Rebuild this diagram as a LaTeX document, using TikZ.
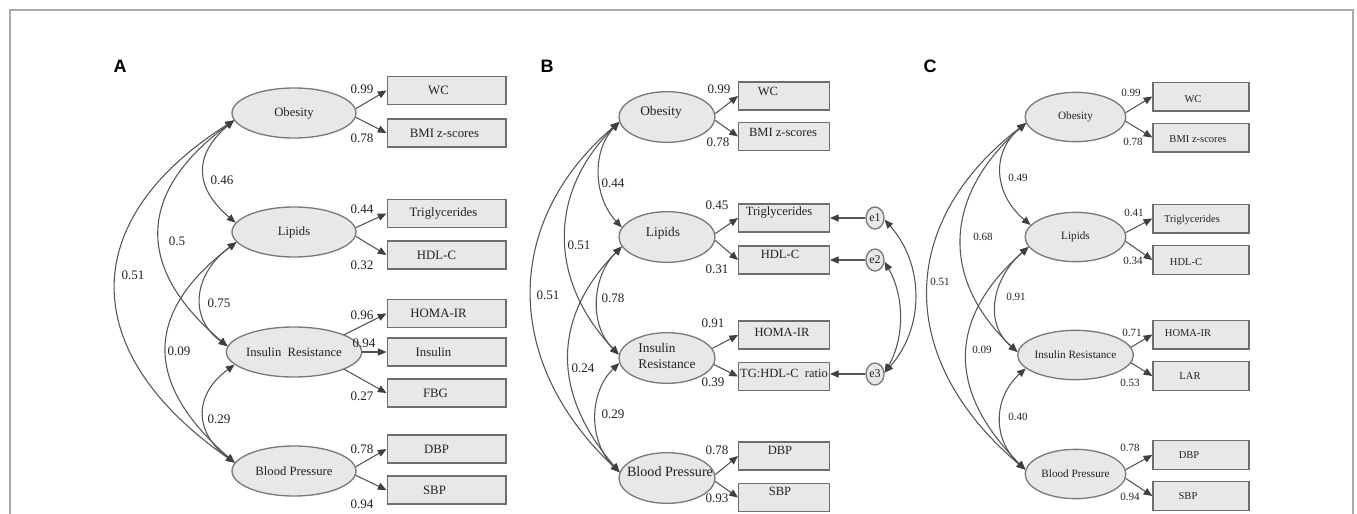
\documentclass[tikz,border=0pt]{standalone}
\usepackage{fontspec}
\setmainfont{Liberation Serif}
\newfontfamily\lettfont{Liberation Sans}
\usetikzlibrary{arrows.meta,shapes.geometric}
\definecolor{fillc}{HTML}{E8E8E8}
\definecolor{ellc}{HTML}{7A7A7A}
\definecolor{boxc}{HTML}{6E6E6E}
\definecolor{linec}{HTML}{555555}
\definecolor{tipc}{HTML}{404040}
\definecolor{framec}{HTML}{AAAAAA}
\definecolor{txtc}{HTML}{222222}
\begin{document}
\begin{tikzpicture}[x=0.75pt,y=-0.75pt,
  lat/.style={ellipse,draw=ellc,fill=fillc,line width=1pt,inner sep=0pt,text=txtc},
  latA/.style={lat,minimum width=93pt,minimum height=37.5pt,font=\fontsize{9.5}{11}\selectfont},
  latB/.style={lat,minimum width=72pt,minimum height=38pt,font=\fontsize{10}{11}\selectfont},
  latC/.style={lat,minimum width=75.5pt,minimum height=37pt,font=\fontsize{8.4}{10}\selectfont},
  obs/.style={rectangle,draw=boxc,fill=fillc,line width=1pt,inner sep=0pt},
  obsA/.style={obs,minimum width=89pt,minimum height=21pt},
  obsB/.style={obs,minimum width=68pt,minimum height=21pt},
  obsC/.style={obs,minimum width=72pt,minimum height=21.5pt},
  err/.style={ellipse,draw=ellc,fill=fillc,line width=1pt,inner sep=0pt,minimum width=13.5pt,minimum height=16.5pt,font=\fontsize{9}{10}\selectfont,text=txtc},
  txA/.style={inner sep=0pt,text=txtc,font=\fontsize{9.6}{11}\selectfont},
  txB/.style={inner sep=0pt,text=txtc,font=\fontsize{9.4}{11}\selectfont},
  txC/.style={inner sep=0pt,text=txtc,font=\fontsize{7.9}{9}\selectfont},
  numA/.style={inner sep=0pt,text=txtc,font=\fontsize{9.8}{11}\selectfont},
  numB/.style={inner sep=0pt,text=txtc,font=\fontsize{9.8}{11}\selectfont},
  numC/.style={inner sep=0pt,text=txtc,font=\fontsize{8.3}{10}\selectfont},
  tip/.tip={Triangle[length=6.5pt,width=5.4pt,color=tipc]},
  lk/.style={draw=linec,line width=0.8pt,-tip},
  cv/.style={draw=linec,line width=0.8pt,tip-tip},
  lett/.style={inner sep=0pt,font=\lettfont\bfseries\fontsize{13.5}{14}\selectfont}
]
\useasboundingbox (0,0) rectangle (1357,514);
\draw[framec,line width=0.8pt] (10,530) -- (10,10) -- (1353,10) -- (1353,530);

%================ Panel A ================
\node[lett] (lA) at (120,66) {A};
\node[latA] (aob)  at (294,113) {Obesity};
\node[latA] (alip) at (294,232) {Lipids};
\node[latA] (air)  at (294,352) {Insulin\ \ Resistance};
\node[latA] (abp)  at (294,471) {Blood Pressure};

\node[obsA] (awc)   at (446.5,90.5) {};
\node[obsA] (abmi)  at (446.5,133) {};
\node[obsA] (atg)   at (446.5,213.5) {};
\node[obsA] (ahdl)  at (446.5,255) {};
\node[obsA] (ahoma) at (446.5,313.5) {};
\node[obsA] (ains)  at (446.5,352) {};
\node[obsA] (afbg)  at (446.5,393) {};
\node[obsA] (adbp)  at (446.5,449) {};
\node[obsA] (asbp)  at (446.5,490) {};
\node[txA] at ([shift={(-8,0)}]awc.center) {WC};
\node[txA] at ([shift={(-2,0)}]abmi.center) {BMI z-scores};
\node[txA] at ([shift={(-3,0)}]atg.center) {Triglycerides};
\node[txA] at ([shift={(-10,0)}]ahdl.center) {HDL-C};
\node[txA] at ([shift={(-8,0)}]ahoma.center) {HOMA-IR};
\node[txA] at ([shift={(-13,0)}]ains.center) {Insulin};
\node[txA] at ([shift={(-11,0)}]afbg.center) {FBG};
\node[txA] at ([shift={(-10,0)}]adbp.center) {DBP};
\node[txA] at ([shift={(-12,0)}]asbp.center) {SBP};

\draw[lk] (aob.4) -- (awc.west);
\draw[lk] (aob.-4) -- (abmi.west);
\draw[lk] (alip.4) -- (atg.west);
\draw[lk] (alip.-4) -- (ahdl.west);
\draw[lk] (air.19) -- (ahoma.west);
\draw[lk] (air.east) -- (ains.west);
\draw[lk] (air.-19) -- (afbg.west);
\draw[lk] (abp.4) -- (adbp.west);
\draw[lk] (abp.-4) -- (asbp.west);

\node[numA] at (362,89) {0.99};
\node[numA] at (362,138) {0.78};
\node[numA] at (362,209) {0.44};
\node[numA] at (362,265) {0.32};
\node[numA] at (362,315) {0.96};
\node[numA] at (364,343) {0.94};
\node[numA] at (362,396) {0.27};
\node[numA] at (362,449) {0.78};
\node[numA] at (362,504) {0.94};

\draw[cv] (aob.187) .. controls +(-41,35) and +(-41,-35) .. (alip.171);
\draw[cv] (aob.187) .. controls +(-95,70) and +(-95,-80) .. (air.175);
\draw[cv] (aob.187) .. controls +(-158,100) and +(-158,-110) .. (abp.172);
\draw[cv] (alip.190) .. controls +(-41,30) and +(-41,-30) .. (air.175);
\draw[cv] (alip.190) .. controls +(-92,70) and +(-92,-80) .. (abp.172);
\draw[cv] (air.192) .. controls +(-41,30) and +(-41,-30) .. (abp.172);

\node[numA] at (222,180) {0.46};
\node[numA] at (177,241) {0.5};
\node[numA] at (133,275) {0.51};
\node[numA] at (219,303) {0.75};
\node[numA] at (179,351) {0.09};
\node[numA] at (219,419) {0.29};

%================ Panel B ================
\node[lett] (lB) at (547,66) {B};
\node[latB] (bob)  at (667,117) {};
\node[latB] (blip) at (667,237) {};
\node[latB] (bir)  at (667,358) {};
\node[latB] (bbp)  at (667,478) {};
\node[inner sep=0pt,text=txtc,font=\fontsize{10}{11}\selectfont] at ([shift={(-6,-5)}]bob.center) {Obesity};
\node[inner sep=0pt,text=txtc,font=\fontsize{10}{11}\selectfont] at ([shift={(-4,-4)}]blip.center) {Lipids};
\node[inner sep=0pt,text=txtc,font=\fontsize{10}{12.5}\selectfont,align=left] at ([shift={(0,-2)}]bir.center) {Insulin\\Resistance};
\node[inner sep=0pt,text=txtc,font=\fontsize{10.6}{11}\selectfont] at ([shift={(3,-6)}]bbp.center) {Blood Pressure};

\node[obsB] (bwc)    at (784,96) {};
\node[obsB] (bbmi)   at (784,136.5) {};
\node[obsB] (btg)    at (784,218) {};
\node[obsB] (bhdl)   at (784,260) {};
\node[obsB] (bhoma)  at (784,335) {};
\node[obsB] (bratio) at (784,376.5) {};
\node[obsB] (bdbp)   at (784,456) {};
\node[obsB] (bsbp)   at (784,497.5) {};
\node[txB] at ([shift={(-16,-5)}]bwc.center) {WC};
\node[txB] at ([shift={(-1,-4)}]bbmi.center) {BMI z-scores};
\node[txB] at ([shift={(-5,-5)}]btg.center) {Triglycerides};
\node[txB] at ([shift={(-4,-6)}]bhdl.center) {HDL-C};
\node[txB] at ([shift={(-2,-3)}]bhoma.center) {HOMA-IR};
\node[txB] at ([shift={(0,-3)}]bratio.center) {TG:HDL-C\ \ ratio};
\node[txB] at ([shift={(-4,-6)}]bdbp.center) {DBP};
\node[txB] at ([shift={(-4,-6)}]bsbp.center) {SBP};

\node[err] (be1) at (875,218) {e1};
\node[err] (be2) at (875,260) {e2};
\node[err] (be3) at (875,374) {e3};
\draw[lk] (be1.west) -- (be1.west -| btg.east);
\draw[lk] (be2.west) -- (be2.west -| bhdl.east);
\draw[lk] (be3.west) -- (be3.west -| bratio.east);
\draw[cv] (be1.-10) .. controls +(40,45) and +(40,-45) .. (be3.8);
\draw[cv] (be2.-10) .. controls +(20,35) and +(20,-35) .. (be3.8);

\draw[lk] (bob.4) -- (bwc.west);
\draw[lk] (bob.-4) -- (bbmi.west);
\draw[lk] (blip.4) -- (btg.west);
\draw[lk] (blip.-4) -- (bhdl.west);
\draw[lk] (bir.12) -- (bhoma.west);
\draw[lk] (bir.-8) -- (bratio.west);
\draw[lk] (bbp.4) -- (bdbp.west);
\draw[lk] (bbp.-4) -- (bsbp.west);

\node[numB] at (719,89) {0.99};
\node[numB] at (718,142) {0.78};
\node[numB] at (717,205) {0.45};
\node[numB] at (717,269) {0.31};
\node[numB] at (713,323) {0.91};
\node[numB] at (713,382) {0.39};
\node[numB] at (717,450) {0.78};
\node[numB] at (717,498) {0.93};

\draw[cv] (bob.186) .. controls +(-28,30) and +(-28,-30) .. (blip.168);
\draw[cv] (bob.186) .. controls +(-71,70) and +(-71,-75) .. (bir.176);
\draw[cv] (bob.186) .. controls +(-117,100) and +(-117,-110) .. (bbp.173);
\draw[cv] (blip.192) .. controls +(-30,30) and +(-30,-30) .. (bir.176);
\draw[cv] (blip.192) .. controls +(-69,70) and +(-69,-80) .. (bbp.173);
\draw[cv] (bir.186) .. controls +(-31,30) and +(-31,-30) .. (bbp.173);

\node[numB] at (613,183) {0.44};
\node[numB] at (579,245) {0.51};
\node[numB] at (548,295) {0.51};
\node[numB] at (613,298) {0.78};
\node[numB] at (583,368) {0.24};
\node[numB] at (613,414) {0.29};

%================ Panel C ================
\node[lett] (lC) at (930,66) {C};
\node[latC] (cob)  at (1075.5,117) {Obesity};
\node[latC] (clip) at (1075.5,237) {Lipids};
\node[latC] (cir)  at (1075.5,355) {Insulin Resistance};
\node[latC] (cbp)  at (1075.5,474) {Blood Pressure};

\node[obsC] (cwc)   at (1201,96.5) {};
\node[obsC] (cbmi)  at (1201,137.5) {};
\node[obsC] (ctg)   at (1201,218.5) {};
\node[obsC] (chdl)  at (1201,260) {};
\node[obsC] (choma) at (1201,334.5) {};
\node[obsC] (clar)  at (1201,376) {};
\node[obsC] (cdbp)  at (1201,455) {};
\node[obsC] (csbp)  at (1201,496) {};
\node[txC] at ([shift={(-8,3)}]cwc.center) {WC};
\node[txC] at ([shift={(-3,2)}]cbmi.center) {BMI z-scores};
\node[txC] at ([shift={(-9,1)}]ctg.center) {Triglycerides};
\node[txC] at ([shift={(-15,2)}]chdl.center) {HDL-C};
\node[txC] at ([shift={(-13,-1)}]choma.center) {HOMA-IR};
\node[txC] at ([shift={(-11,0)}]clar.center) {LAR};
\node[txC] at ([shift={(-12,0)}]cdbp.center) {DBP};
\node[txC] at ([shift={(-13,0)}]csbp.center) {SBP};

\draw[lk] (cob.5) -- (cwc.west);
\draw[lk] (cob.-5) -- (cbmi.west);
\draw[lk] (clip.5) -- (ctg.west);
\draw[lk] (clip.-5) -- (chdl.west);
\draw[lk] (cir.8) -- (choma.west);
\draw[lk] (cir.-8) -- (clar.west);
\draw[lk] (cbp.5) -- (cdbp.west);
\draw[lk] (cbp.-5) -- (csbp.west);

\node[numC] at (1131,93) {0.99};
\node[numC] at (1133,142) {0.78};
\node[numC] at (1134,213) {0.41};
\node[numC] at (1133,261) {0.34};
\node[numC] at (1132,333) {0.71};
\node[numC] at (1130,383) {0.53};
\node[numC] at (1130,448) {0.78};
\node[numC] at (1130,497) {0.94};

\draw[cv] (cob.187) .. controls +(-36,30) and +(-36,-30) .. (clip.165);
\draw[cv] (cob.187) .. controls +(-80,70) and +(-80,-75) .. (cir.177);
\draw[cv] (cob.187) .. controls +(-130,100) and +(-130,-110) .. (cbp.175);
\draw[cv] (clip.192) .. controls +(-35,30) and +(-35,-30) .. (cir.177);
\draw[cv] (clip.192) .. controls +(-80,70) and +(-80,-80) .. (cbp.175);
\draw[cv] (cir.195) .. controls +(-33,30) and +(-33,-30) .. (cbp.175);

\node[numC] at (1018,178) {0.49};
\node[numC] at (983,237) {0.68};
\node[numC] at (940,282) {0.51};
\node[numC] at (1016,297) {0.91};
\node[numC] at (982,350) {0.09};
\node[numC] at (1018,417) {0.40};
\end{tikzpicture}
\end{document}
